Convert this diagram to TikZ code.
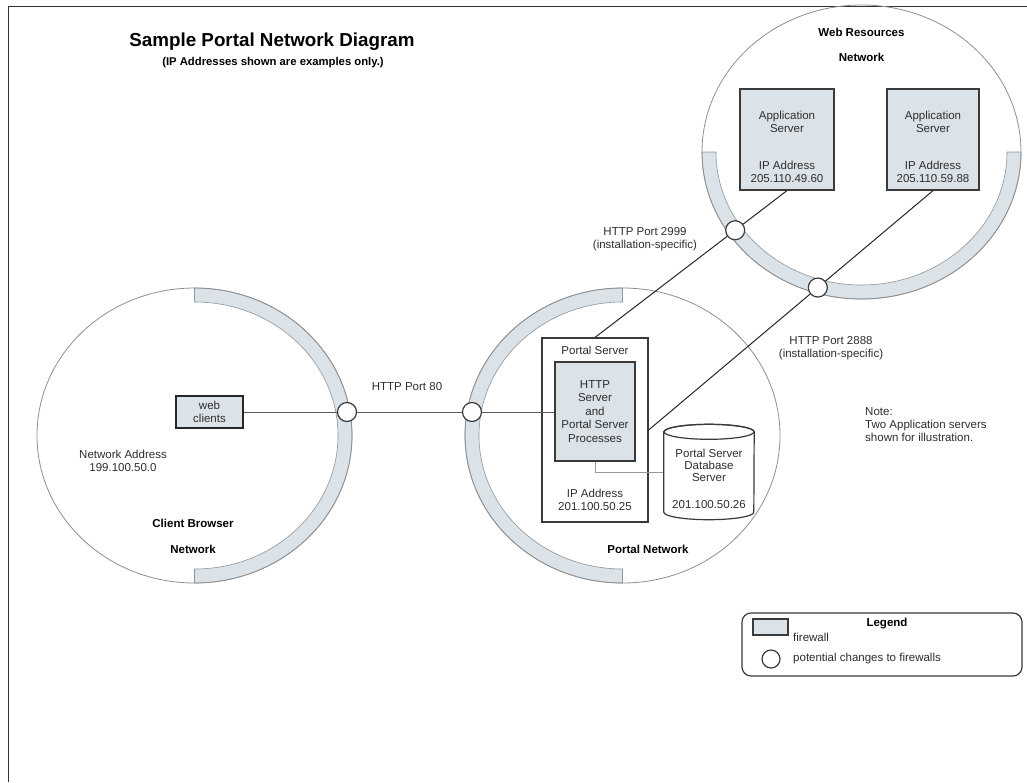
\documentclass[tikz,border=0pt]{standalone}
\usepackage{fontspec}
\setmainfont{Liberation Sans}
\usetikzlibrary{calc}
\definecolor{fwfill}{HTML}{DBE2E8}
\definecolor{fwedge}{HTML}{8E979E}
\definecolor{ringgray}{HTML}{8F8F8F}
\definecolor{boxedge}{HTML}{3A3A3A}
\definecolor{txtgray}{HTML}{2E2E2E}
\begin{document}
\begin{tikzpicture}[x=1pt,y=-1pt,
 lbl/.style={font=\fontsize{11.5}{13}\selectfont, text=txtgray, align=center, inner sep=0pt},
 blbl/.style={font=\fontsize{11.5}{13}\selectfont\bfseries, text=black, align=center, inner sep=0pt},
 fwbox/.style={draw=boxedge, line width=1.2pt, fill=fwfill, inner sep=0pt},
 whitebox/.style={draw=boxedge, line width=1.2pt, fill=white, inner sep=0pt},
 fwc/.style={circle, draw=boxedge, line width=1.2pt, fill=white, minimum size=19pt, inner sep=0pt},
 conn/.style={draw=black!85, line width=1pt},
 hconn/.style={draw=black!65, line width=0.9pt},
 ring/.style={draw=ringgray, line width=0.8pt},
 band/.style={fill=fwfill, draw=fwedge, line width=0.6pt}]

\fill[white] (0,0) rectangle (1027,782);
\useasboundingbox (0,0) rectangle (1027,782);
\draw[draw=black!80, line width=1.4pt] (1027,6.5) -- (8.5,6.5) -- (8.5,782);

% firewall bands
\path[band] (194.5,288) arc[start angle=-90,end angle=90,x radius=157.5,y radius=147.5] -- (194.5,569) arc[start angle=90,end angle=-90,x radius=143.5,y radius=133.5] -- cycle;
\path[band] (622.5,583) arc[start angle=90,end angle=270,x radius=157.5,y radius=147.5] -- (622.5,302) arc[start angle=270,end angle=90,x radius=143.5,y radius=133.5] -- cycle;
\path[band] (1021,152) arc[start angle=0,end angle=180,x radius=159.5,y radius=147] -- (716,152) arc[start angle=180,end angle=0,x radius=145.5,y radius=133] -- cycle;

% network rings
\draw[ring] (194.5,435.5) ellipse[x radius=157.5, y radius=147.5];
\draw[ring] (622.5,435.5) ellipse[x radius=157.5, y radius=147.5];
\draw[ring] (861.5,152) ellipse[x radius=159.5, y radius=147];

% title
\node[blbl, font=\fontsize{18.8}{22}\selectfont\bfseries] (title) at (272,42) {Sample Portal Network Diagram};
\node[blbl, font=\fontsize{11.3}{13}\selectfont\bfseries] (subtitle) at (273,63) {(IP Addresses shown are examples only.)};

% web resources network
\node[blbl] (webres) at (861.5,32) {Web Resources};
\node[blbl] (webnet) at (861.5,57) {Network};
\node[fwbox, minimum width=94pt, minimum height=101pt] (app1) at (787,139.5) {};
\node[lbl] (app1name) at (787,122) {Application\\Server};
\node[lbl] (app1ip) at (787,172) {IP Address\\205.110.49.60};
\node[fwbox, minimum width=92pt, minimum height=101pt] (app2) at (933,139.5) {};
\node[lbl] (app2name) at (933,122) {Application\\Server};
\node[lbl] (app2ip) at (933,172) {IP Address\\205.110.59.88};

% portal network
\node[whitebox, minimum width=106pt, minimum height=184pt] (portalbox) at (595,430) {};
\node[lbl] (portallabel) at (595,350) {Portal Server};
\node[lbl, fwbox, font=\fontsize{11.5}{13.5}\selectfont, minimum width=80pt, minimum height=99pt] (httpbox) at (595,411.5) {HTTP\\Server\\and\\Portal Server\\Processes};
\node[lbl] (portalip) at (595,500) {IP Address\\201.100.50.25};
\node[minimum width=90pt, minimum height=80pt, inner sep=0pt] (db) at (709,472) {};
\draw[draw=black!40, line width=0.9pt] (httpbox.south) |- (db.west);
\filldraw[fill=white, draw=boxedge, line width=1.2pt] (db.north west) -- (db.south west) arc[start angle=180,end angle=0,x radius=45,y radius=7.5] -- (db.north east) arc[start angle=0,end angle=-180,x radius=45,y radius=7.5] -- cycle;
\draw[draw=boxedge, line width=1.2pt] (db.north) ellipse[x radius=45, y radius=7.5];
\node[lbl, font=\fontsize{11.5}{12}\selectfont] (dbtext) at (709,478.5) {Portal Server\\Database\\Server\\[15pt]201.100.50.26};
\node[blbl] (portalnet) at (648,549) {Portal Network};

% client browser network
\node[lbl, fwbox, line width=1.8pt, draw=black!85, minimum width=67pt, minimum height=32pt] (webclients) at (209.5,412) {web\\clients};
\node[lbl] (netaddr) at (123,460.5) {Network Address\\199.100.50.0};
\node[blbl] (clientbrowser) at (193,523) {Client Browser};
\node[blbl] (clientnet) at (193,549) {Network};

% firewall openings and connectors
\node[fwc] (fw1) at (347,412) {};
\node[fwc] (fw2) at (472,412) {};
\node[fwc] (fw3) at ($(app1.south)!0.27!(portalbox.north)$) {};
\node[fwc] (fw4) at ($(app2.south)!0.405!(portalbox.east)$) {};
\draw[hconn] (webclients) -- (fw1);
\draw[hconn] (fw1) -- (fw2);
\draw[hconn] (fw2) -- (fw2 -| httpbox.west);
\draw[conn] (app1.south) -- (fw3);
\draw[conn] (fw3) -- (portalbox.north);
\draw[conn] (app2.south) -- (fw4);
\draw[conn] (fw4) -- (portalbox.east);

\node[lbl] (port80) at (407,387) {HTTP Port 80};
\node[lbl] (port2999) at (645,239.5) {HTTP Port 2999\\(installation-specific)};
\node[lbl] (port2888) at (831,348.5) {HTTP Port 2888\\(installation-specific)};

% note
\node[lbl, align=left, anchor=west] (note) at (865,425) {Note:\\Two Application servers\\shown for illustration.};

% legend
\node[draw=boxedge, line width=1.2pt, rounded corners=9pt, minimum width=280pt, minimum height=63pt, inner sep=0pt] (legend) at (882,644.5) {};
\node[blbl] (legtitle) at (887,624) {Legend};
\node[fwbox, minimum width=35pt, minimum height=16pt] (legswatch) at (770.5,627) {};
\node[lbl, anchor=west] (legfw) at (793,637) {firewall};
\node[fwc, minimum size=18pt] (legcircle) at (771,659) {};
\node[lbl, anchor=west] (legchg) at (793,659) {potential changes to firewalls};
\end{tikzpicture}
\end{document}
